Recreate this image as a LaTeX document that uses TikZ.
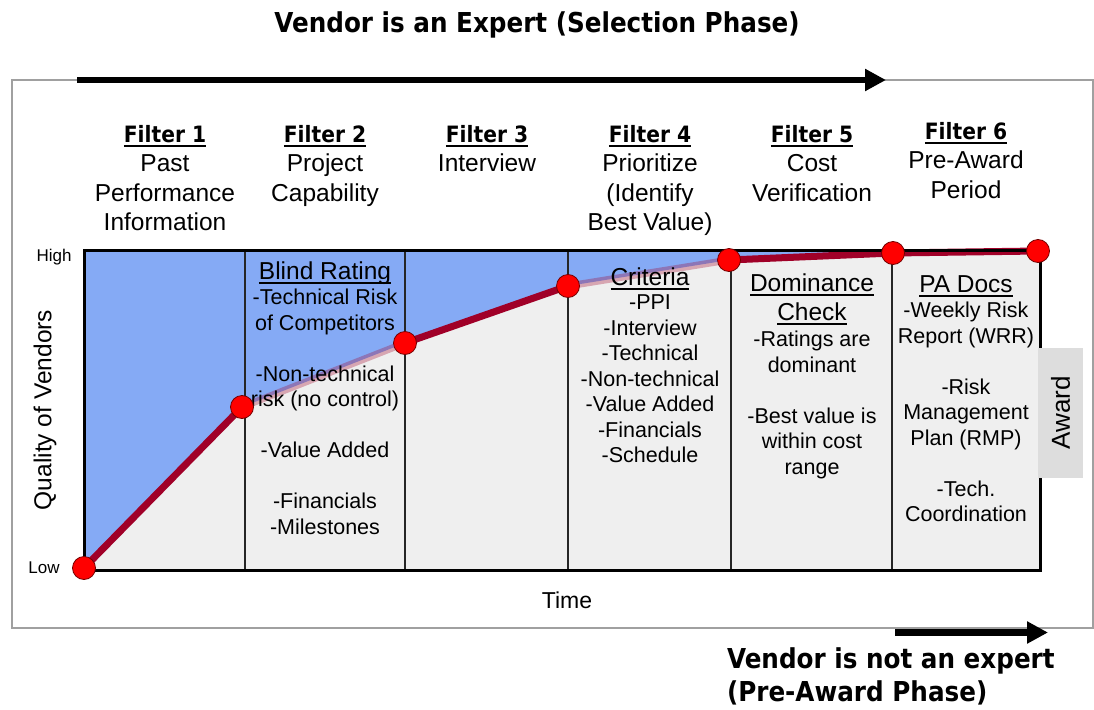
\documentclass[tikz,border=0pt]{standalone}
\usepackage{fontspec}
\setmainfont{Liberation Sans}
\newfontfamily\headfont[FakeStretch=0.9]{DejaVu Sans}
\usetikzlibrary{arrows.meta}

\definecolor{skyblue}{RGB}{133,170,245}
\definecolor{panelgray}{RGB}{239,239,239}
\definecolor{qred}{RGB}{160,0,40}
\definecolor{awardgray}{RGB}{221,221,221}
\definecolor{framegray}{RGB}{160,160,160}

% thick underline that does not disturb the line spacing
\newbox\ulbox
\newcommand\ulx[1]{\setbox\ulbox\hbox{#1}\rlap{\vrule width\wd\ulbox height -2.5pt depth 4.5pt}\box\ulbox}
\newcommand\fhead[1]{{\headfont\bfseries\fontsize{22.5}{29.5}\selectfont\ulx{#1}}}

\begin{document}
\begin{tikzpicture}[x=1pt,y=-1pt,
  every node/.style={inner sep=0pt, outer sep=0pt},
  title/.style={font=\headfont\bfseries\fontsize{27.4}{32}\selectfont},
  hdr/.style={align=center, anchor=north, font=\fontsize{24.5}{29.5}\selectfont},
  subhead/.style={align=center, font=\fontsize{24.5}{29}\selectfont},
  body/.style={align=center, anchor=north, font=\fontsize{21.5}{25.5}\selectfont},
  dot/.style={circle, fill=red, draw=red!45!black, line width=0.8pt, minimum size=23pt},
  frame/.style={draw=framegray, line width=1.5pt},
  bigarrow/.style={line width=6.5pt, -{Triangle[length=21pt,width=21pt]}},
  quality/.style={line width=7pt, draw=qred, line join=round, line cap=round},
  faded/.style={line width=7pt, draw=qred, draw opacity=0.3},
  divider/.style={line width=2.5pt, draw=black!85},
  axislabel/.style={font=\fontsize{17}{20}\selectfont},
]
\useasboundingbox (0,0) rectangle (1094,709);

% outer frame and phase arrows
\draw[frame] (12,80) rectangle (1093,628);
\coordinate (ta0) at (77,80);
\coordinate (ta1) at (886,80);
\draw[bigarrow] (ta0) -- (ta1);
\coordinate (ba0) at (895,632.5);
\coordinate (ba1) at (1048,632.5);
\draw[bigarrow] (ba0) -- (ba1);

\node[title, anchor=base] (toptitle) at (537,33) {Vendor is an Expert (Selection Phase)};
\node[title, anchor=base west] (bot1) at (727,668) {Vendor is not an expert};
\node[title, anchor=base west] (bot2) at (727,701) {(Pre-Award Phase)};

% quality curve points
\coordinate (q1) at (84,568);
\coordinate (q2) at (242,407);
\coordinate (q3) at (405,343);
\coordinate (q4) at (568,286);
\coordinate (q5) at (729,260);
\coordinate (q6) at (893,253);
\coordinate (q7) at (1038,251);

% chart panel
\fill[panelgray] (84,250) rectangle (1040,570);
\fill[skyblue] (84,250) -- (q1) -- (q2) -- (q3) -- (q4) -- (q5) -- (q6) -- (q7) -- (1040,250) -- cycle;
\foreach \xx in {245,405,568,731,892}
  \draw[divider] (\xx,250) -- (\xx,570);

\draw[quality] (q1) -- (q2);
\draw[faded] (q2) -- (q3);
\draw[quality] (q3) -- (q4);
\draw[faded] (q4) -- (q5);
\draw[quality] (q5) -- (q6) -- (q7);

% column headings
\node[hdr] (h1) at (165,125) {\fhead{Filter 1}\\Past\\Performance\\Information};
\node[hdr] (h2) at (325,125) {\fhead{Filter 2}\\Project\\Capability};
\node[hdr] (h3) at (487,125) {\fhead{Filter 3}\\Interview};
\node[hdr] (h4) at (650,125) {\fhead{Filter 4}\\Prioritize\\(Identify\\Best Value)};
\node[hdr] (h5) at (812,125) {\fhead{Filter 5}\\Cost\\Verification};
\node[hdr] (h6) at (966,122) {\fhead{Filter 6}\\Pre-Award\\Period};

% column contents
\node[subhead, anchor=base] (s2) at (325,279) {\ulx{Blind Rating}};
\node[body] (b2) at (325,289) {-Technical Risk\\of Competitors\\[25.5pt]-Non-technical\\risk (no control)\\[25.5pt]-Value Added\\[25.5pt]-Financials\\-Milestones};

\node[subhead, anchor=base] (s4) at (650,285) {\ulx{Criteria}};
\node[body] (b4) at (650,295) {-PPI\\-Interview\\-Technical\\-Non-technical\\-Value Added\\-Financials\\-Schedule};

\node[subhead, anchor=north] (s5) at (812,274) {\ulx{Dominance}\\\ulx{Check}};
\node[body] (b5) at (812,331) {-Ratings are\\dominant\\[25.5pt]-Best value is\\within cost\\range};

\node[subhead, anchor=base] (s6) at (966,292) {\ulx{PA Docs}};
\node[body] (b6) at (966,302) {-Weekly Risk\\Report (WRR)\\[25.5pt]-Risk\\Management\\Plan (RMP)\\[25.5pt]-Tech.\\Coordination};

% panel border and curve markers
\draw[line width=3pt] (84,250) rectangle (1040,570);
\foreach \i in {1,...,7}
  \node[dot] (d\i) at (q\i) {};

% axes
\node[axislabel] (high) at (54,257) {High};
\node[axislabel] (low) at (44,568) {Low};
\node[rotate=90, font=\fontsize{24.5}{28}\selectfont] (quality) at (45,410) {Quality of Vendors};
\node[font=\fontsize{23}{26}\selectfont] (time) at (567,600) {Time};

% award tab
\node[fill=awardgray, minimum width=130pt, minimum height=45pt, rotate=90,
      font=\fontsize{26}{30}\selectfont] (award) at (1060.5,413) {Award};
\end{tikzpicture}
\end{document}
